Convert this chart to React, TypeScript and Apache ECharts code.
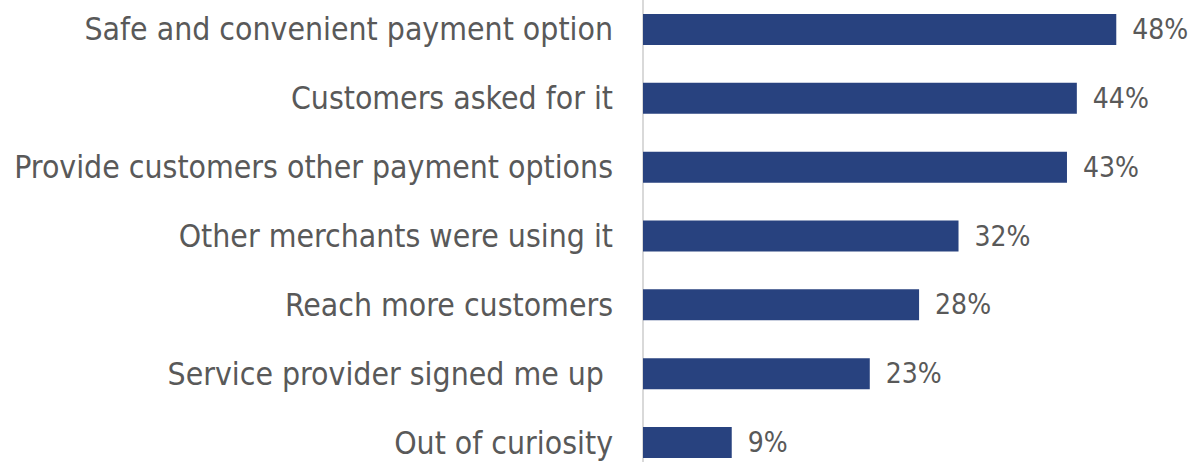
import React, { useEffect, useRef } from "react";
import * as echarts from "echarts";

const categories = [
  "Safe and convenient payment option",
  "Customers asked for it",
  "Provide customers other payment options",
  "Other merchants were using it",
  "Reach more customers",
  "Service provider signed me up ",
  "Out of curiosity",
];
const values = [48, 44, 43, 32, 28, 23, 9];

export default function App() {
  const ref = useRef<HTMLDivElement>(null);
  useEffect(() => {
    const chart = echarts.init(ref.current!, null, { renderer: "svg" });
    const font = "'DejaVu Sans Condensed', 'DejaVu Sans', sans-serif";
    chart.setOption({
      animation: false,
      grid: { left: 643, right: 56, top: 0, bottom: 0, containLabel: false },
      xAxis: {
        type: "value",
        min: 0,
        max: 50,
        show: false,
      },
      yAxis: {
        type: "category",
        data: categories,
        inverse: true,
        axisLine: { show: true, lineStyle: { color: "#d9d9d9", width: 2 } },
        axisTick: { show: false },
        axisLabel: {
          margin: 30,
          color: "#595959",
          fontSize: 31.7,
          fontFamily: font,
        },
      },
      series: [
        {
          type: "bar",
          data: values,
          barWidth: 31,
          itemStyle: { color: "#28427f" },
          label: {
            show: true,
            position: "right",
            distance: 16,
            formatter: "{c}%",
            color: "#595959",
            fontSize: 28,
            fontFamily: font,
          },
        },
      ],
    });
    return () => chart.dispose();
  }, []);
  return (
    <div style={{ position: "absolute", left: 0, top: 0, width: 1192, height: 462, overflow: "hidden" }}>
      <div
        ref={ref}
        style={{ position: "absolute", left: 0, top: -5, width: 1192, height: 482 }}
      />
    </div>
  );
}
